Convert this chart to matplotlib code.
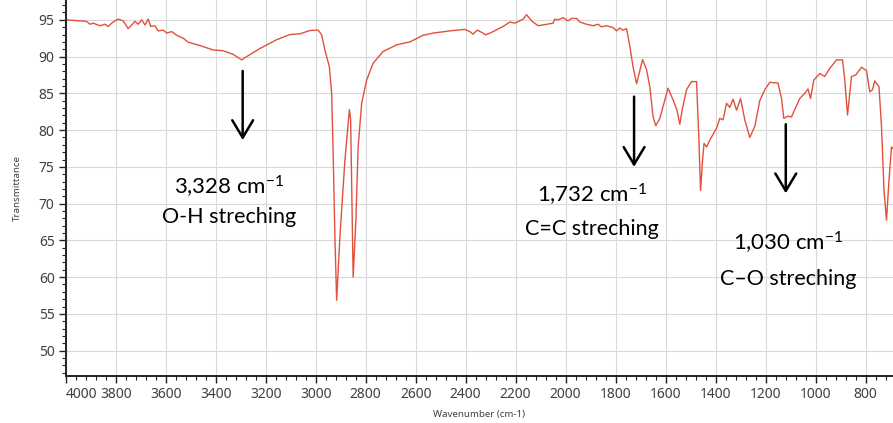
"""FT-IR spectrum (transmittance vs wavenumber) with three band annotations."""
import matplotlib
matplotlib.use("Agg")
import matplotlib.pyplot as plt
from matplotlib.ticker import MultipleLocator

# spectrum, wavenumber in cm-1 (descending)
wavenumber = [
    4000, 3943, 3917, 3903, 3890, 3863, 3843, 3830, 3816, 3803, 3790, 3770,
    3750, 3736, 3723, 3710, 3696, 3683, 3670, 3660, 3643, 3630, 3610, 3596,
    3576, 3556, 3530, 3510, 3463, 3410, 3370, 3330, 3296, 3276, 3223, 3156,
    3103, 3063, 3023, 2990, 2976, 2963, 2945, 2936, 2930, 2923, 2916, 2903,
    2883, 2865, 2860, 2850, 2839, 2830, 2816, 2796, 2770, 2730, 2676, 2623,
    2570, 2530, 2463, 2403, 2383, 2370, 2354, 2336, 2319, 2290, 2250, 2223,
    2203, 2170, 2156, 2136, 2110, 2076, 2050, 2043, 2030, 2010, 1990, 1976,
    1956, 1943, 1916, 1890, 1870, 1856, 1836, 1810, 1796, 1783, 1770, 1756,
    1743, 1730, 1716, 1706, 1692, 1676, 1663, 1650, 1639, 1623, 1603, 1590,
    1570, 1554, 1543, 1532, 1516, 1496, 1476, 1467, 1460, 1452, 1446, 1436,
    1423, 1396, 1383, 1370, 1356, 1343, 1330, 1316, 1300, 1283, 1263, 1243,
    1223, 1203, 1183, 1150, 1136, 1127, 1110, 1096, 1063, 1043, 1030, 1020,
    1007, 983, 963, 943, 916, 892, 883, 872, 856, 839, 816, 796,
    783, 772, 763, 746, 736, 726, 716, 706, 696, 690,
]
transmittance = [
    95.0, 94.86, 94.8, 94.4, 94.55, 94.2, 94.4, 94.1, 94.55, 94.86, 95.1, 94.86,
    93.8, 94.3, 94.8, 94.4, 95.0, 94.3, 95.1, 94.1, 94.2, 93.5, 93.6, 93.2,
    93.4, 92.9, 92.5, 91.96, 91.5, 90.9, 90.8, 90.3, 89.55, 90.0, 91.1, 92.3,
    93.0, 93.1, 93.55, 93.6, 92.96, 90.9, 88.6, 85.0, 76.8, 65.5, 56.85, 65.5,
    75.9, 82.8, 81.4, 60.0, 67.75, 77.7, 83.65, 86.8, 89.1, 90.7, 91.6, 92.0,
    92.9, 93.2, 93.5, 93.7, 93.4, 93.05, 93.6, 93.3, 92.96, 93.4, 94.1, 94.7,
    94.55, 95.1, 95.7, 94.86, 94.2, 94.4, 94.55, 95.1, 95.0, 95.3, 94.86, 95.2,
    95.2, 94.7, 94.4, 94.2, 94.4, 94.05, 94.2, 93.95, 93.5, 93.9, 93.6, 93.8,
    91.4, 88.6, 86.3, 87.7, 89.6, 88.2, 85.9, 81.8, 80.6, 81.6, 84.1, 85.7,
    84.1, 82.7, 80.8, 83.0, 85.5, 86.6, 86.6, 79.1, 71.8, 75.9, 78.2, 77.7,
    78.65, 80.25, 81.6, 81.4, 83.65, 83.1, 84.2, 82.7, 84.3, 81.4, 79.0, 80.5,
    84.0, 85.5, 86.5, 86.4, 84.3, 81.6, 81.9, 81.8, 84.3, 85.0, 85.6, 84.3,
    86.8, 87.7, 87.3, 88.4, 89.55, 89.55, 86.8, 82.05, 87.3, 87.5, 88.55, 88.1,
    85.2, 85.5, 86.7, 85.9, 80.5, 71.8, 67.75, 73.2, 77.7, 77.5,
]

# band annotations: arrow x, arrow start/end y, two label lines
band_x = [3292, 1726, 1119]
arrow_top = [88.05, 84.55, 80.8]
arrow_tip = [78.65, 75.0, 71.4]
band_wavenumbers = ["3,328 cm$^{-1}$", "1,732 cm$^{-1}$", "1,030 cm$^{-1}$"]
band_names = ["O-H streching", "C=C streching", "C\u2013O streching"]
label_x = [3347, 1895, 1111]
label_y1 = [72.25, 71.15, 64.6]
label_y2 = [68.2, 66.5, 59.7]

plt.rcParams["mathtext.fontset"] = "custom"
plt.rcParams["mathtext.rm"] = "Lato"
plt.rcParams["mathtext.it"] = "Lato:italic"

fig = plt.figure(figsize=(8.93, 4.23), dpi=100)
ax = fig.add_axes([0.0736, 0.112, 0.9264, 0.888])

ax.plot(wavenumber, transmittance, color="#e2503c", linewidth=1.0)

ax.set_xlim(4000, 690)
ax.set_ylim(46.6, 97.7)
ax.set_xticks(range(4000, 699, -200))
ax.xaxis.set_minor_locator(MultipleLocator(40))
ax.set_yticks(range(50, 96, 5))
ax.yaxis.set_minor_locator(MultipleLocator(1))
ax.grid(True, which="major", color="#d9d9d9", linewidth=0.8)
ax.set_axisbelow(True)

for side in ("top", "right"):
    ax.spines[side].set_visible(False)
for side in ("left", "bottom"):
    ax.spines[side].set_color("#222222")
    ax.spines[side].set_linewidth(1.4)

ax.tick_params(which="major", length=5, width=1.0, color="#222222",
               labelsize=10, labelcolor="#404040", pad=3)
ax.tick_params(which="minor", length=3, width=0.8, color="#222222")
for lab in ax.get_xticklabels() + ax.get_yticklabels():
    lab.set_family("Noto Sans")
# first x label sits right of its tick, as in the source
ax.xaxis.get_major_ticks()[0].label1.set_horizontalalignment("left")

ax.set_xlabel("Wavenumber (cm-1)", fontsize=7, color="#404040",
              family="Noto Sans", labelpad=6)
ax.set_ylabel("Transmittance", fontsize=7, color="#404040",
              family="Noto Sans", labelpad=12)

for x, y0, y1 in zip(band_x, arrow_top, arrow_tip):
    ax.annotate("", xy=(x, y1), xytext=(x, y0),
                arrowprops=dict(arrowstyle="->,head_length=0.5,head_width=0.3",
                                color="black", lw=1.8, mutation_scale=25,
                                shrinkA=0, shrinkB=0))

for x, y1, y2, top, bottom in zip(label_x, label_y1, label_y2,
                                  band_wavenumbers, band_names):
    ax.text(x, y1, top, ha="center", va="center", fontsize=16, family="Lato")
    ax.text(x, y2, bottom, ha="center", va="center", fontsize=15.5, family="Lato")

fig.savefig("out.png", dpi=100)
